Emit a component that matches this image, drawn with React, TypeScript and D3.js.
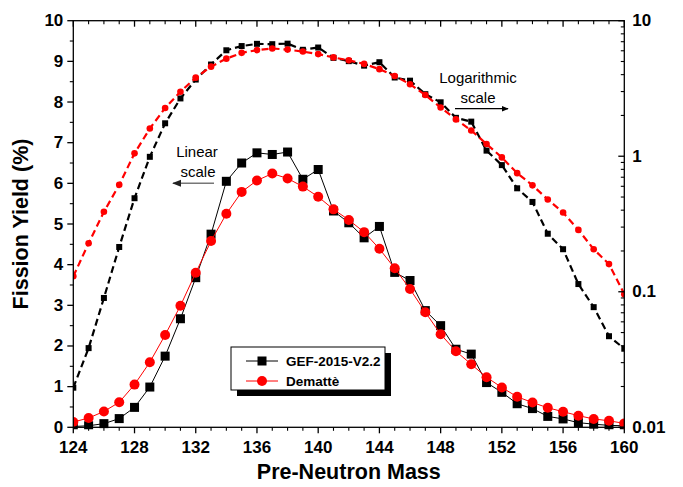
import React from "react";
import * as d3 from "d3";

const masses = d3.range(124, 161);
const gefYield = [
  0.0196, 0.0384, 0.09, 0.214, 0.49, 0.99, 1.75, 2.67, 3.68, 4.75,
  6.05, 6.5, 6.75, 6.71, 6.77, 6.1, 6.34, 5.32, 5.03, 4.66,
  4.94, 3.81, 3.61, 2.87, 2.5, 1.92, 1.8, 1.1, 0.86, 0.58,
  0.46, 0.268, 0.206, 0.114, 0.077, 0.047, 0.038,
];
const demYield = [
  0.13, 0.228, 0.389, 0.615, 1.05, 1.6, 2.27, 2.99, 3.8, 4.58,
  5.25, 5.79, 6.07, 6.24, 6.12, 5.92, 5.67, 5.36, 5.1, 4.8,
  4.39, 3.91, 3.4, 2.83, 2.29, 1.87, 1.55, 1.23, 0.98, 0.75,
  0.61, 0.48, 0.384, 0.286, 0.206, 0.16, 0.096,
];
const xMajorTicks = [124, 128, 132, 136, 140, 144, 148, 152, 156, 160];
const yLinTicks = [0, 1, 2, 3, 4, 5, 6, 7, 8, 9, 10];
const yLogTicks = [0.01, 0.1, 1, 10];
const logTickLabels = ["0.01", "0.1", "1", "10"];
const seriesNames = ["GEF-2015-V2.2", "Dematt\u00e8"];

const W = 683;
const H = 487;
const L = 73.3;
const R = 624.3;
const T = 20.7;
const B = 427.3;
const FONT = "'Liberation Sans', Arial, sans-serif";

export default function App() {
  const x = d3.scaleLinear().domain([124, 160]).range([L, R]);
  const yLin = d3.scaleLinear().domain([0, 10]).range([B, T]);
  const yLog = d3.scaleLog().domain([0.01, 10]).range([B, T]);

  const gefPts = masses.map((m, i) => ({ m, v: gefYield[i] }));
  const demPts = masses.map((m, i) => ({ m, v: demYield[i] }));

  const lineLin = d3
    .line<{ m: number; v: number }>()
    .x((d) => x(d.m))
    .y((d) => yLin(d.v));
  const lineLog = d3
    .line<{ m: number; v: number }>()
    .x((d) => x(d.m))
    .y((d) => yLog(d.v));

  const xMinor = d3.range(124, 161, 1).filter((v) => !xMajorTicks.includes(v));
  const yLinMinor = d3.range(0.5, 10, 1);
  const yLogMinor: number[] = [];
  [0.01, 0.1, 1].forEach((dec) => {
    for (let k = 2; k <= 9; k++) yLogMinor.push(dec * k);
  });

  const sq = (cx: number, cy: number, s: number, key: string) => (
    <rect key={key} x={cx - s / 2} y={cy - s / 2} width={s} height={s} fill="#000" />
  );

  return (
    <svg
      width={W}
      height={H}
      style={{ position: "absolute", left: 0, top: 0, background: "#fff" }}
      fontFamily={FONT}
    >
      <defs>
        <marker id="ahGray" viewBox="0 0 10 10" refX="9" refY="5" markerWidth="6" markerHeight="6" orient="auto-start-reverse">
          <path d="M0,1 L10,5 L0,9 z" fill="#222" />
        </marker>
        <marker id="ahBlack" viewBox="0 0 10 10" refX="9" refY="5" markerWidth="6" markerHeight="6" orient="auto-start-reverse">
          <path d="M0,1 L10,5 L0,9 z" fill="#000" />
        </marker>
        <clipPath id="plotClip">
          <rect x={L} y={T} width={R - L} height={B - T + 2} />
        </clipPath>
      </defs>

      {/* series */}
      <g clipPath="url(#plotClip)">
        {/* linear scale */}
        <path d={lineLin(gefPts) || ""} fill="none" stroke="#000" strokeWidth={1} />
        {gefPts.map((d, i) => sq(x(d.m), yLin(d.v), 9, "gl" + i))}
        <path d={lineLin(demPts) || ""} fill="none" stroke="#f00" strokeWidth={1} />
        {demPts.map((d, i) => (
          <circle key={"dl" + i} cx={x(d.m)} cy={yLin(d.v)} r={5} fill="#f00" />
        ))}
        {/* log scale */}
        <path d={lineLog(gefPts) || ""} fill="none" stroke="#000" strokeWidth={2.2} strokeDasharray="7,4" />
        {gefPts.map((d, i) => sq(x(d.m), yLog(d.v), 6, "gg" + i))}
        <path d={lineLog(demPts) || ""} fill="none" stroke="#f00" strokeWidth={2.2} strokeDasharray="7,4" />
        {demPts.map((d, i) => (
          <circle key={"dg" + i} cx={x(d.m)} cy={yLog(d.v)} r={3.3} fill="#f00" />
        ))}
      </g>

      {/* frame */}
      <rect x={L} y={T} width={R - L} height={B - T} fill="none" stroke="#000" strokeWidth={1.3} />

      {/* bottom axis ticks (out) and top ticks (in) */}
      {xMajorTicks.map((v) => (
        <g key={"xm" + v}>
          <line x1={x(v)} x2={x(v)} y1={B} y2={B + 6} stroke="#000" strokeWidth={1.3} />
          <line x1={x(v)} x2={x(v)} y1={T} y2={T + 6} stroke="#000" strokeWidth={1.3} />
          <text x={x(v)} y={447} textAnchor="middle" dominantBaseline="central" fontSize={17} fontWeight="bold">
            {v}
          </text>
        </g>
      ))}
      {xMinor.map((v) => (
        <g key={"xn" + v}>
          <line x1={x(v)} x2={x(v)} y1={B} y2={B + 3.5} stroke="#000" strokeWidth={1.1} />
          <line x1={x(v)} x2={x(v)} y1={T} y2={T + 3.5} stroke="#000" strokeWidth={1.1} />
        </g>
      ))}

      {/* left linear axis */}
      {yLinTicks.map((v) => (
        <g key={"yl" + v}>
          <line x1={L - 6} x2={L} y1={yLin(v)} y2={yLin(v)} stroke="#000" strokeWidth={1.3} />
          <text x={L - 10} y={yLin(v)} textAnchor="end" dominantBaseline="central" fontSize={17} fontWeight="bold">
            {v}
          </text>
        </g>
      ))}
      {yLinMinor.map((v) => (
        <line key={"yln" + v} x1={L - 3.5} x2={L} y1={yLin(v)} y2={yLin(v)} stroke="#000" strokeWidth={1.1} />
      ))}

      {/* right log axis (ticks in) */}
      {yLogTicks.map((v, i) => (
        <g key={"yg" + v}>
          <line x1={R - 6} x2={R} y1={yLog(v)} y2={yLog(v)} stroke="#000" strokeWidth={1.3} />
          <text x={R + 8} y={yLog(v)} textAnchor="start" dominantBaseline="central" fontSize={17} fontWeight="bold">
            {logTickLabels[i]}
          </text>
        </g>
      ))}
      {yLogMinor.map((v) => (
        <line key={"ygn" + v} x1={R - 3.5} x2={R} y1={yLog(v)} y2={yLog(v)} stroke="#000" strokeWidth={1.1} />
      ))}

      {/* axis titles */}
      <text x={(L + R) / 2} y={472} textAnchor="middle" dominantBaseline="central" fontSize={21.5} fontWeight="bold">
        Pre-Neutron Mass
      </text>
      <text
        transform={`translate(21, ${(T + B) / 2}) rotate(-90)`}
        textAnchor="middle"
        dominantBaseline="central"
        fontSize={21.5}
        fontWeight="bold"
      >
        Fission Yield (%)
      </text>

      {/* annotations */}
      <text x={197} y={151.5} textAnchor="middle" dominantBaseline="central" fontSize={15}>Linear</text>
      <text x={198} y={171} textAnchor="middle" dominantBaseline="central" fontSize={15}>scale</text>
      <line x1={214} x2={173} y1={183.3} y2={183.3} stroke="#777" strokeWidth={1.5} markerEnd="url(#ahGray)" />

      <text x={478} y={77.5} textAnchor="middle" dominantBaseline="central" fontSize={15}>Logarithmic</text>
      <text x={478} y={97} textAnchor="middle" dominantBaseline="central" fontSize={15}>scale</text>
      <line x1={455} x2={508} y1={108.7} y2={108.7} stroke="#000" strokeWidth={1.2} markerEnd="url(#ahBlack)" />

      {/* legend */}
      <rect x={237} y={353} width={154} height={43} fill="#000" />
      <rect x={231} y={347} width={154} height={43} fill="#fff" stroke="#000" strokeWidth={1} />
      {seriesNames.map((name, i) => {
        const cy = 361 + i * 20;
        return (
          <g key={"lg" + i}>
            <line x1={246} x2={278} y1={cy} y2={cy} stroke={i === 0 ? "#000" : "#f00"} strokeWidth={1} />
            {i === 0 ? sq(262, cy, 9, "lgs") : <circle cx={262} cy={cy} r={5} fill="#f00" />}
            <text x={286} y={cy} dominantBaseline="central" fontSize={13.5} fontWeight="bold">
              {name}
            </text>
          </g>
        );
      })}
    </svg>
  );
}
